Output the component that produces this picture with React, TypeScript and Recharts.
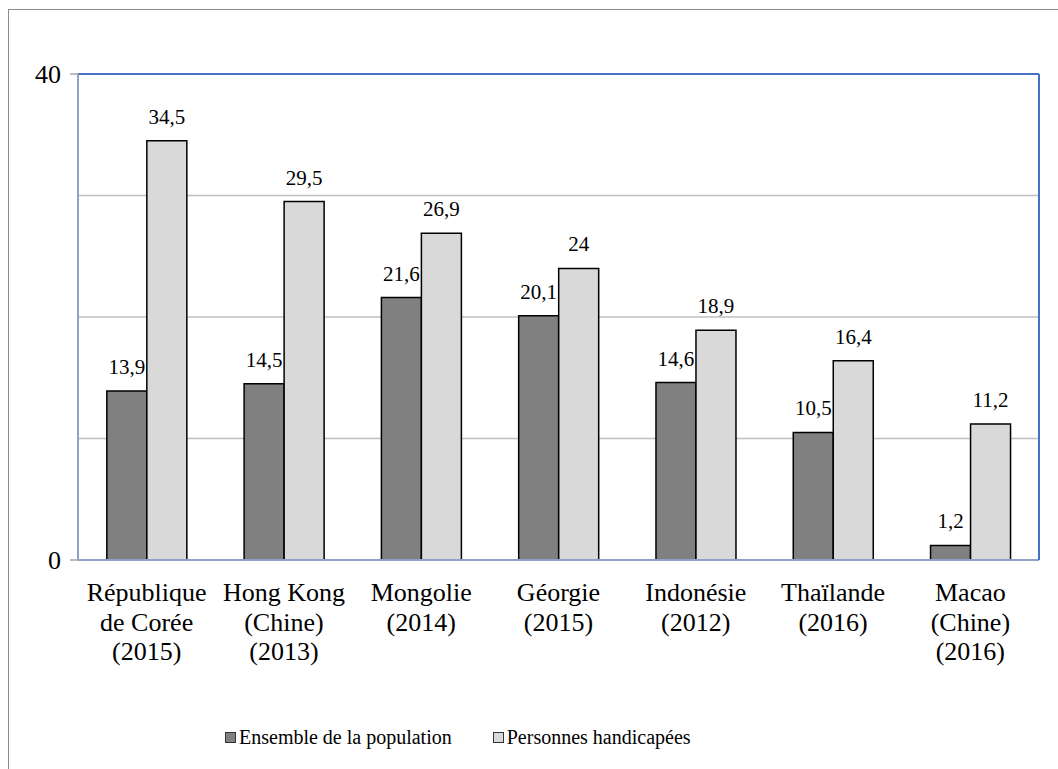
import { BarChart, Bar, XAxis, YAxis, CartesianGrid, ReferenceLine, LabelList } from 'recharts'

const categories = [
  'République\nde Corée\n(2015)',
  'Hong Kong\n(Chine)\n(2013)',
  'Mongolie\n(2014)',
  'Géorgie\n(2015)',
  'Indonésie\n(2012)',
  'Thaïlande\n(2016)',
  'Macao\n(Chine)\n(2016)',
]
const ensemble = [13.9, 14.5, 21.6, 20.1, 14.6, 10.5, 1.2]
const handicapees = [34.5, 29.5, 26.9, 24, 18.9, 16.4, 11.2]
const yTicks = [0, 10, 20, 30, 40]
const yLabelled = [0, 40]

const SERIES = [
  { key: 'ensemble', label: 'Ensemble de la population', fill: '#808080' },
  { key: 'handicapees', label: 'Personnes handicapées', fill: '#D9D9D9' },
] as const

const data = categories.map((name, i) => ({
  name,
  ensemble: ensemble[i],
  handicapees: handicapees[i],
}))

// category boundaries (0..n) for the small tick marks under the x axis
const edgeTicks = categories.map((_, i) => i).concat(categories.length)

const FONT = 'Liberation Serif, DejaVu Serif, serif'

const fmt = (v: number) => String(v).replace('.', ',')

function YTick({ x, y, payload }: any) {
  if (!yLabelled.includes(payload.value)) return null
  return (
    <g>
      <line x1={x - 8} x2={x} y1={y} y2={y} stroke="#A6A6A6" strokeWidth={1.5} />
      <text x={x - 17} y={y + 9} textAnchor="end" style={{ fontFamily: FONT }} fontSize={26} fill="#000">
        {payload.value}
      </text>
    </g>
  )
}

function XTick({ x, y, payload }: any) {
  const lines = String(payload.value).split('\n')
  return (
    <text textAnchor="middle" style={{ fontFamily: FONT }} fontSize={26} fill="#000">
      {lines.map((l, i) => (
        <tspan key={i} x={x} y={y + 41 + i * 29.5}>
          {l}
        </tspan>
      ))}
    </text>
  )
}

export default function App() {
  return (
    <div
      style={{
        position: 'fixed',
        left: 0,
        top: 0,
        width: 1058,
        height: 769,
        overflow: 'hidden',
        background: '#fff',
        fontFamily: FONT,
      }}
    >
      <div
        style={{
          position: 'absolute',
          left: 8,
          top: 9,
          width: 1200,
          height: 1000,
          borderLeft: '1px solid #8c8c8c',
          borderTop: '1px solid #8c8c8c',
        }}
      />
      <div style={{ position: 'absolute', left: 0, top: 0 }}>
        <BarChart
          width={1058}
          height={769}
          data={data}
          margin={{ top: 74, right: 18, left: 8, bottom: 100 }}
          barCategoryGap="21%"
          barGap={0}
        >
          <CartesianGrid xAxisId="cat" yAxisId="l" vertical={false} stroke="#BFBFBF" strokeWidth={1.3} />
          <XAxis
            xAxisId="edge"
            type="number"
            domain={[0, categories.length]}
            ticks={edgeTicks}
            interval={0}
            tick={false}
            tickLine={{ stroke: '#A6A6A6', strokeWidth: 1.5 }}
            tickSize={7}
            axisLine={false}
            height={0}
          />
          <XAxis
            xAxisId="cat"
            dataKey="name"
            interval={0}
            tick={<XTick />}
            tickLine={false}
            tickSize={0}
            tickMargin={0}
            axisLine={{ stroke: '#8EA2C8', strokeWidth: 2 }}
            height={109}
          />
          <YAxis
            yAxisId="l"
            domain={[0, 40]}
            ticks={yTicks}
            interval={0}
            tick={<YTick />}
            tickLine={false}
            tickSize={0}
            tickMargin={0}
            axisLine={{ stroke: '#8EA2C8', strokeWidth: 2 }}
            width={70}
          />
          <YAxis
            yAxisId="r"
            orientation="right"
            domain={[0, 40]}
            tick={false}
            tickLine={false}
            axisLine={{ stroke: '#4472C4', strokeWidth: 2 }}
            width={1}
          />
          <ReferenceLine xAxisId="cat" yAxisId="l" y={40} stroke="#4472C4" strokeWidth={2} />
          {SERIES.map((s) => (
            <Bar
              key={s.key}
              xAxisId="cat"
              yAxisId="l"
              dataKey={s.key}
              fill={s.fill}
              stroke="#000"
              strokeWidth={1.5}
              isAnimationActive={false}
            >
              <LabelList
                dataKey={s.key}
                position="top"
                offset={17}
                formatter={(v: any) => fmt(v)}
                style={{ fontFamily: FONT, fontSize: 21, fill: '#000' }}
              />
            </Bar>
          ))}
        </BarChart>
      </div>
      <div
        style={{
          position: 'absolute',
          left: 225,
          top: 727,
          display: 'flex',
          alignItems: 'center',
          fontSize: 20,
          lineHeight: '20px',
          color: '#000',
          whiteSpace: 'nowrap',
        }}
      >
        {SERIES.map((s, i) => (
          <span key={s.key} style={{ display: 'flex', alignItems: 'center', marginLeft: i ? 41 : 0 }}>
            <span
              style={{
                display: 'inline-block',
                width: 9,
                height: 9,
                background: s.fill,
                border: '1px solid #333',
                marginRight: 3,
              }}
            />
            {s.label}
          </span>
        ))}
      </div>
    </div>
  )
}
